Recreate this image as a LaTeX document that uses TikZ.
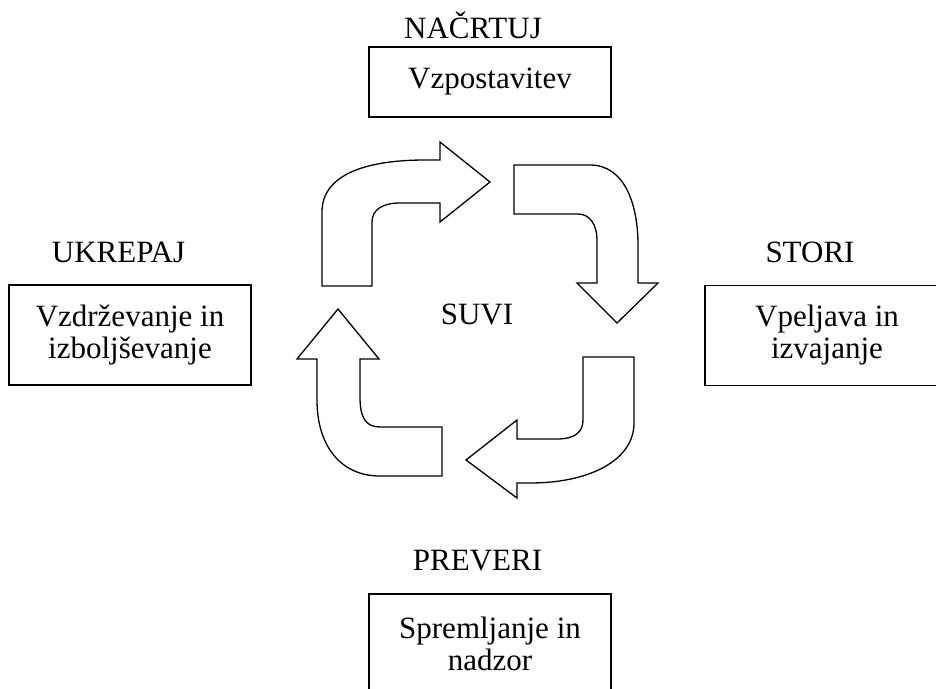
\documentclass[tikz,border=0pt]{standalone}
\usepackage{fontspec}
\setmainfont{Liberation Serif}
\usetikzlibrary{positioning}

\begin{document}
\begin{tikzpicture}[x=1pt, y=-1pt,
        stage/.style={draw, line width=1.6pt, minimum width=242pt, minimum height=100pt, inner sep=0pt, align=center, font=\fontsize{31}{32}\selectfont},
        phase/.style={anchor=base, inner sep=0pt, font=\fontsize{31}{32}\selectfont},
        bendarr/.style={draw, line width=1.3pt, line join=miter, fill=white},
    ]
    \useasboundingbox (0,0) rectangle (936,688);
    \clip (0,0) rectangle (936,688);

    % Phase boxes
    \node[stage, minimum height=70pt] (plan) at (490,82) {Vzpostavitev};
    \node[stage] (act) at (130,335) {Vzdrževanje in\\izboljševanje};
    \node[stage, minimum width=244pt] (do) at (827,335.5) {Vpeljava in\\izvajanje};
    \node[stage] (check) at (490,644) {Spremljanje in\\nadzor};

    % Phase titles
    \node[phase] (tplan) at (473,38) {NAČRTUJ};
    \node[phase] (tact) at (118.5,262) {UKREPAJ};
    \node[phase] (tdo) at (810,262) {STORI};
    \node[phase] (tcheck) at (477.5,570) {PREVERI};
    \node[phase] (suvi) at (477,324) {SUVI};

    % Cycle arrows
    \path[bendarr] (372,286) -- (322,286) -- (322,212)
        .. controls (322,175) and (365,160) .. (425,160) -- (440,160)
        -- (440,142) -- (490,182) -- (440,222) -- (440,203) -- (400,203)
        .. controls (382,203) and (372,210) .. (372,222) -- cycle;
    \path[bendarr] (514,165) -- (590,165)
        .. controls (625,165) and (638,205) .. (638,245) -- (638,283)
        -- (658,283) -- (617,323) -- (577,283) -- (597,283) -- (597,240)
        .. controls (597,225) and (590,214) .. (578,214) -- (514,214) -- cycle;
    \path[bendarr] (583,357) -- (634,357) -- (634,423)
        .. controls (634,460) and (590,483) .. (530,483) -- (517,483)
        -- (517,498) -- (466,460) -- (517,420) -- (517,439) -- (557,439)
        .. controls (575,439) and (583,432) .. (583,420) -- cycle;
    \path[bendarr] (338,309) -- (379,359) -- (360,359) -- (360,397)
        .. controls (360,418) and (366,427) .. (380,427) -- (442,427)
        -- (442,476) -- (380,476)
        .. controls (340,476) and (317,445) .. (317,400) -- (317,359)
        -- (297,359) -- cycle;
\end{tikzpicture}
\end{document}
